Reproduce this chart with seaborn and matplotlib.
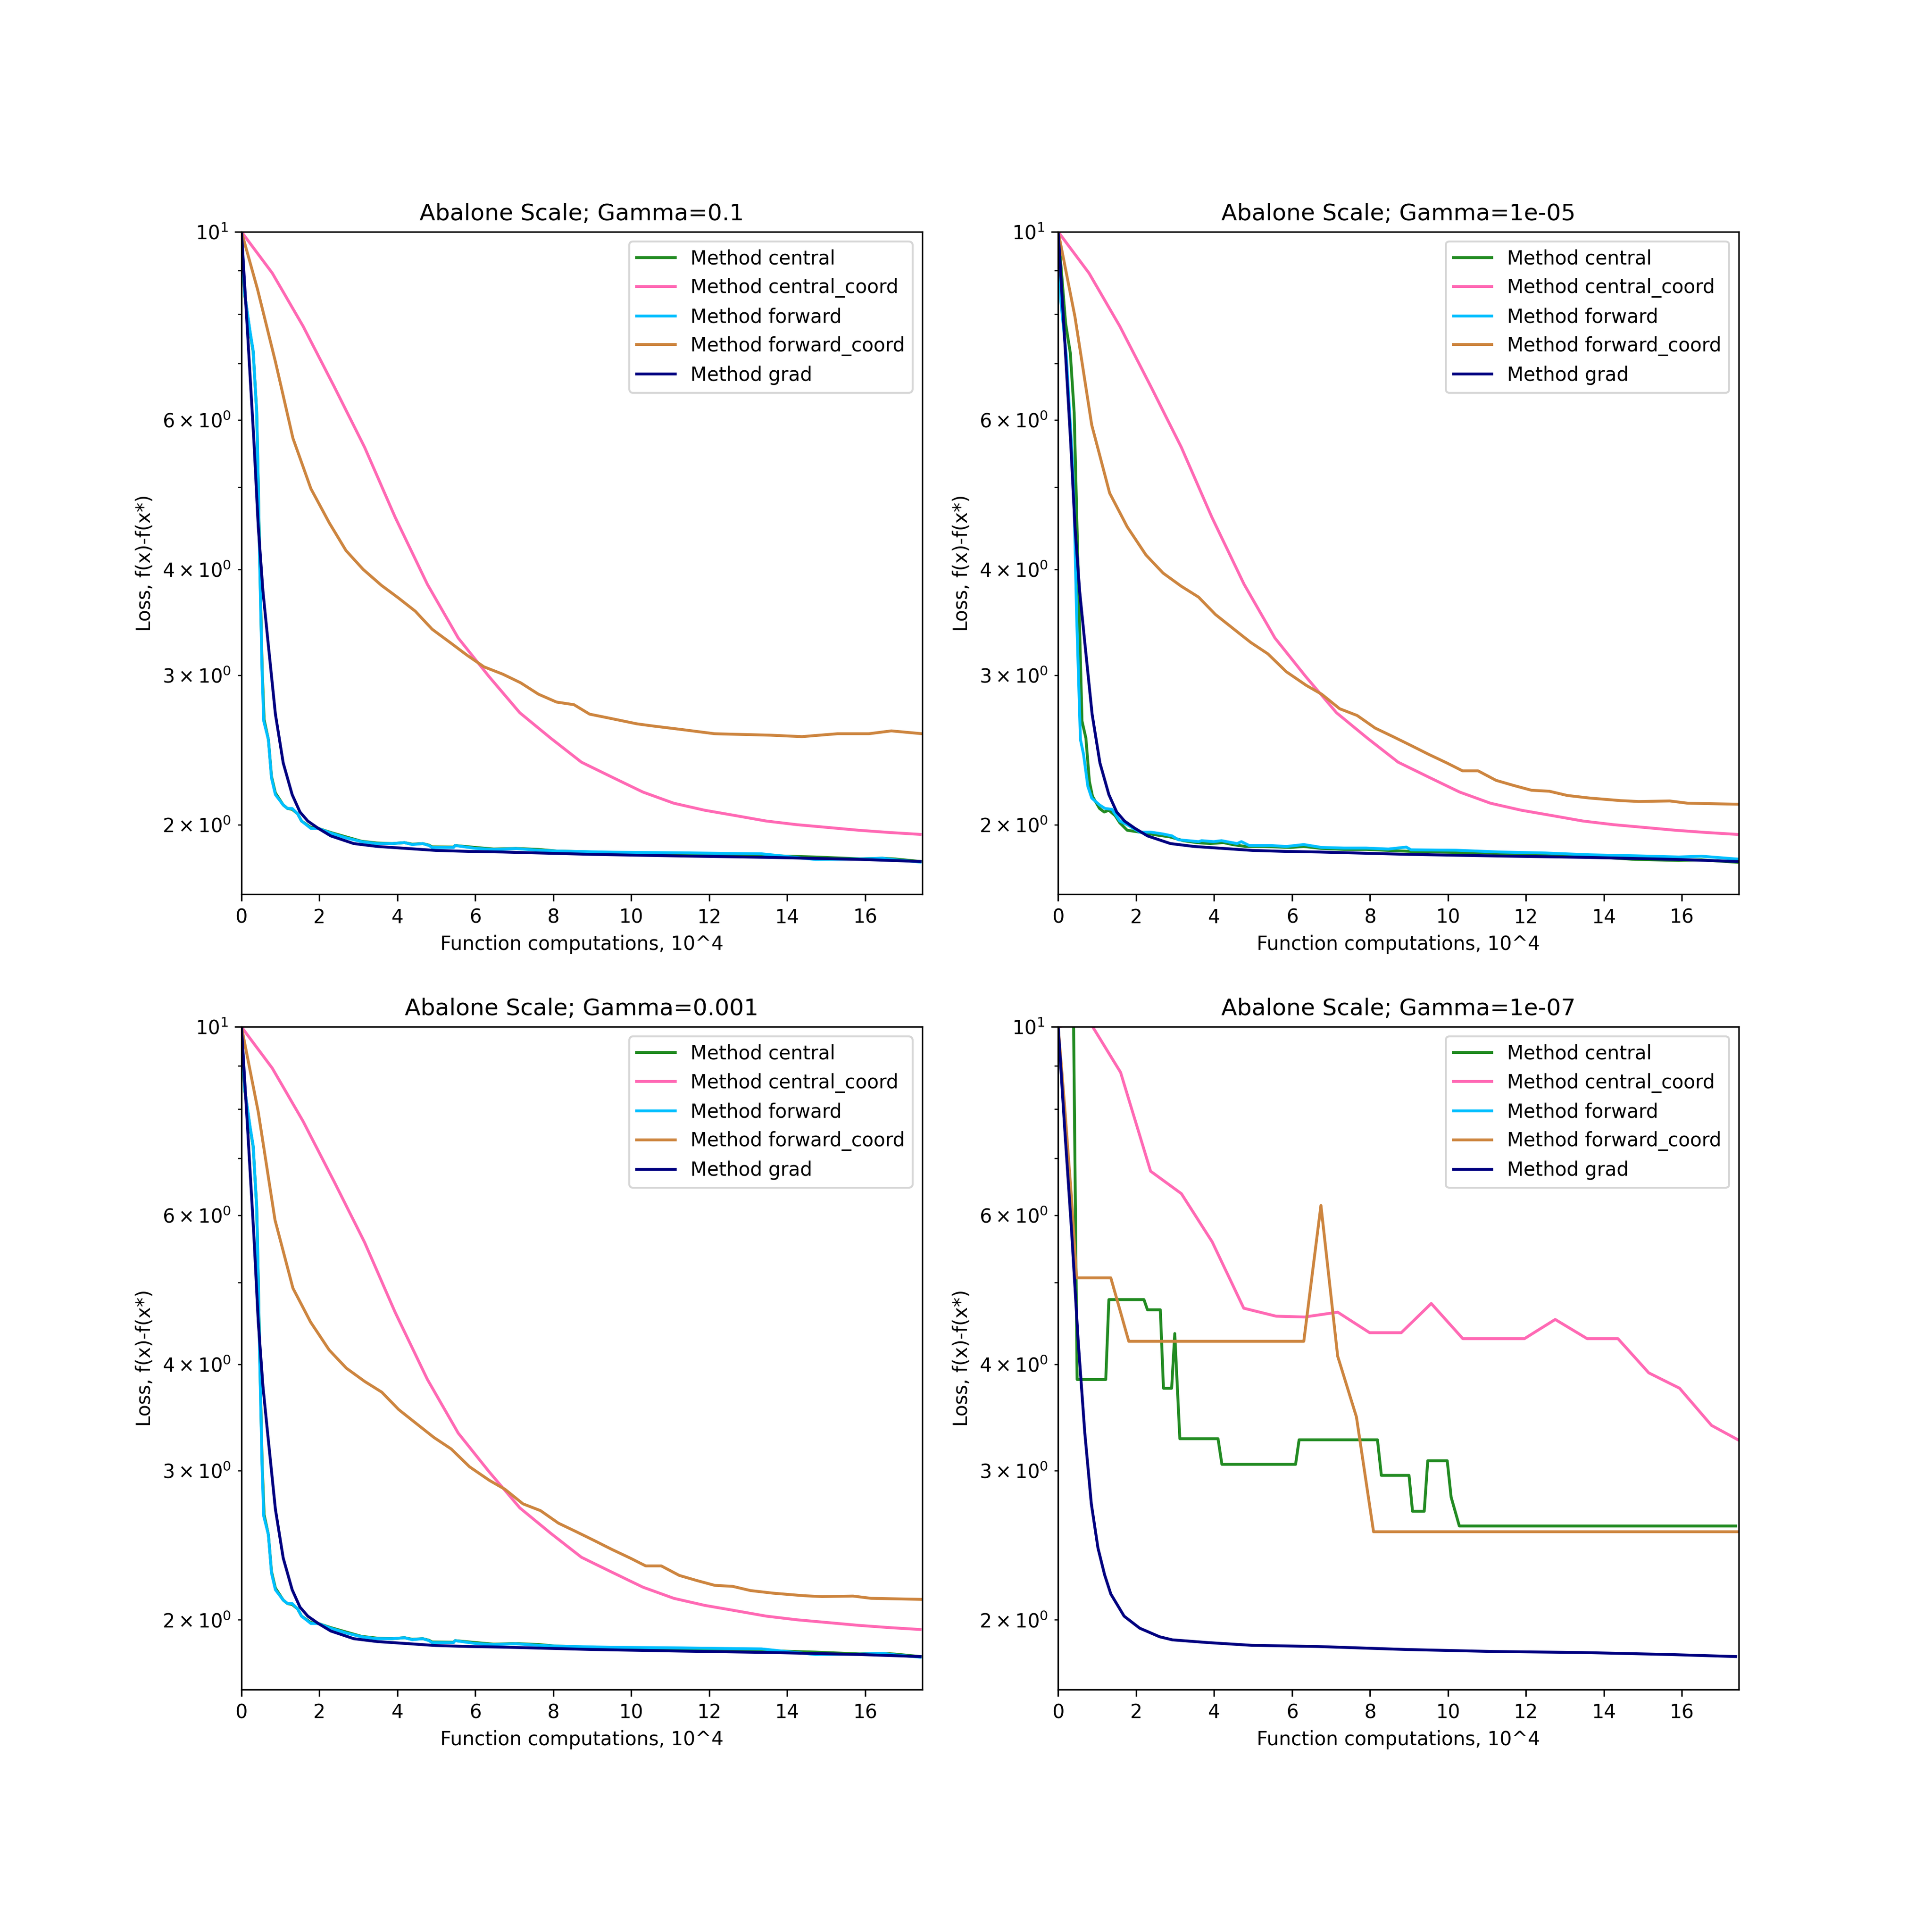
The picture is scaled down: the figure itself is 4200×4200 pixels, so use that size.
import numpy as np
import pandas as pd
import matplotlib
matplotlib.use("Agg")
import matplotlib.pyplot as plt
import seaborn as sns

# ---------------- data (x in units of 10^4 function computations) ----------------
# Panel Gamma=0.1 (also used for Gamma=0.001 where curves coincide)
central_A_x = [0, 0.08, 0.22, 0.30, 0.39, 0.43, 0.47, 0.53, 0.58, 0.69, 0.77, 0.87, 1.07, 1.18, 1.30, 1.44,
               1.54, 1.78, 1.97, 2.29, 2.68, 3.08, 3.47, 3.87, 4.18, 4.38, 4.65, 4.81, 4.89, 5.44, 5.48, 6.01,
               6.47, 7.04, 7.62, 8.08, 8.99, 9.56, 11.28, 12.43, 13.34, 14.72, 15.86, 16.44, 16.78, 17.41]
central_A_y = [10, 8.44, 7.60, 7.22, 6.14, 5.06, 4.05, 3.05, 2.66, 2.52, 2.28, 2.18, 2.11, 2.09, 2.085, 2.06,
               2.02, 1.985, 1.98, 1.958, 1.935, 1.912, 1.903, 1.90, 1.905, 1.897, 1.90, 1.892, 1.883, 1.882,
               1.89, 1.88, 1.872, 1.875, 1.87, 1.862, 1.857, 1.852, 1.846, 1.842, 1.84, 1.832, 1.823, 1.826,
               1.822, 1.81]
forward_A_x = [0, 0.08, 0.22, 0.30, 0.39, 0.43, 0.47, 0.53, 0.57, 0.69, 0.77, 0.87, 1.07, 1.18, 1.30, 1.44,
               1.54, 1.78, 1.97, 2.29, 2.68, 3.08, 3.47, 3.87, 4.18, 4.38, 4.65, 4.81, 4.89, 5.44, 5.48, 6.01,
               6.47, 7.04, 7.62, 8.08, 8.99, 9.56, 11.28, 12.43, 13.34, 14.72, 15.86, 16.44, 16.78, 17.41]
forward_A_y = [10, 8.46, 7.63, 7.24, 6.12, 5.03, 4.0, 3.0, 2.65, 2.52, 2.27, 2.17, 2.11, 2.09, 2.09, 2.06,
               2.02, 1.98, 1.98, 1.955, 1.93, 1.91, 1.90, 1.90, 1.905, 1.895, 1.90, 1.89, 1.88, 1.88,
               1.89, 1.875, 1.87, 1.874, 1.866, 1.862, 1.858, 1.856, 1.853, 1.85, 1.848, 1.82, 1.822, 1.826,
               1.818, 1.807]
grad_x = [0, 0.16, 0.32, 0.43, 0.55, 0.67, 0.87, 1.07, 1.30, 1.50, 1.70, 1.97, 2.29, 2.88, 3.49, 3.87, 4.98,
          5.84, 6.70, 8.99, 11.28, 13.57, 15.86, 17.41]
grad_y = [10, 7.54, 5.65, 4.49, 3.77, 3.32, 2.70, 2.365, 2.17, 2.07, 2.02, 1.98, 1.94, 1.90, 1.885, 1.88,
          1.865, 1.86, 1.857, 1.845, 1.837, 1.83, 1.82, 1.81]
central_coord_x = [0, 0.79, 1.58, 2.37, 3.16, 3.94, 4.77, 5.56, 6.35, 7.14, 7.93, 8.72, 9.51, 10.30, 11.09,
                   11.88, 12.67, 13.46, 14.25, 15.04, 15.83, 16.62, 17.41]
central_coord_y = [10, 8.94, 7.74, 6.58, 5.57, 4.61, 3.84, 3.32, 2.99, 2.71, 2.53, 2.37, 2.275, 2.185, 2.12,
                   2.08, 2.05, 2.02, 2.0, 1.985, 1.97, 1.958, 1.948]
forward_coord_A_x = [0, 0.41, 0.87, 1.32, 1.78, 2.25, 2.68, 3.12, 3.59, 4.03, 4.46, 4.89, 5.35, 5.78, 6.22,
                     6.70, 7.16, 7.62, 8.08, 8.53, 8.93, 9.45, 10.14, 10.54, 11.28, 12.14, 13.57, 14.38, 14.83,
                     15.29, 16.09, 16.67, 17.47]
forward_coord_A_y = [10, 8.56, 7.03, 5.71, 4.98, 4.54, 4.21, 4.0, 3.83, 3.70, 3.57, 3.40, 3.28, 3.17, 3.07,
                     3.01, 2.94, 2.85, 2.79, 2.77, 2.70, 2.67, 2.63, 2.615, 2.59, 2.56, 2.55, 2.54, 2.55,
                     2.56, 2.56, 2.58, 2.56]

# Panel Gamma=1e-05 (coordinate methods also used for Gamma=0.001)
central_B_x = [0, 0.19, 0.31, 0.41, 0.51, 0.61, 0.71, 0.80, 0.88, 1.06, 1.18, 1.30, 1.46, 1.58, 1.77, 2.09,
               2.52, 2.86, 3.21, 3.55, 3.90, 4.24, 4.47, 4.81, 5.27, 5.96, 6.30, 6.76, 7.33, 7.90, 8.47, 9.05,
               10.2, 11.34, 12.5, 13.63, 14.8, 15.92, 16.5, 17.41]
central_B_y = [10, 7.80, 7.2, 6.12, 4.0, 2.65, 2.53, 2.25, 2.16, 2.09, 2.07, 2.08, 2.05, 2.01, 1.97, 1.96,
               1.945, 1.935, 1.915, 1.905, 1.90, 1.905, 1.895, 1.885, 1.885, 1.88, 1.885, 1.875, 1.87, 1.87,
               1.865, 1.86, 1.855, 1.85, 1.84, 1.835, 1.82, 1.815, 1.818, 1.806]
forward_B_x = [0, 0.07, 0.21, 0.35, 0.41, 0.47, 0.57, 0.65, 0.76, 0.86, 1.06, 1.20, 1.38, 1.58, 1.77, 2.09,
               2.37, 2.69, 2.92, 3.08, 3.60, 3.68, 3.99, 4.19, 4.59, 4.70, 4.90, 5.46, 5.85, 6.30, 6.76, 7.33,
               7.90, 8.47, 8.93, 9.05, 10.2, 11.34, 12.5, 13.63, 14.8, 15.92, 16.5, 17.41]
forward_B_y = [10, 8.27, 7.12, 5.52, 4.75, 3.56, 2.52, 2.42, 2.22, 2.15, 2.11, 2.09, 2.085, 2.02, 2.0, 1.96,
               1.96, 1.95, 1.94, 1.92, 1.91, 1.915, 1.91, 1.915, 1.90, 1.91, 1.89, 1.89, 1.885, 1.895, 1.88,
               1.877, 1.877, 1.872, 1.882, 1.868, 1.866, 1.857, 1.852, 1.843, 1.838, 1.832, 1.836, 1.822]
forward_coord_B_x = [0, 0.43, 0.86, 1.32, 1.77, 2.25, 2.69, 3.16, 3.60, 4.03, 4.51, 4.94, 5.38, 5.85, 6.36,
                     6.76, 7.22, 7.67, 8.13, 8.59, 9.05, 9.51, 9.97, 10.37, 10.77, 11.23, 11.68, 12.14, 12.60,
                     13.06, 13.63, 14.43, 14.89, 15.69, 16.15, 17.47]
forward_coord_B_y = [10, 7.94, 5.92, 4.92, 4.49, 4.16, 3.96, 3.82, 3.71, 3.54, 3.40, 3.28, 3.18, 3.03, 2.92,
                     2.85, 2.74, 2.69, 2.60, 2.54, 2.48, 2.42, 2.365, 2.315, 2.315, 2.256, 2.225, 2.196, 2.19,
                     2.165, 2.15, 2.135, 2.13, 2.133, 2.12, 2.114]

# Panel Gamma=1e-07
central_D_x = [0, 0.18, 0.485, 1.22, 1.30, 2.20, 2.29, 2.62, 2.70, 2.91, 2.99, 3.12, 4.10, 4.20, 6.09, 6.18,
               8.19, 8.29, 9.00, 9.09, 9.39, 9.48, 9.98, 10.08, 10.29, 17.38]
central_D_y = [10, 100, 3.84, 3.84, 4.77, 4.77, 4.64, 4.64, 3.75, 3.75, 4.35, 3.27, 3.27, 3.05, 3.05, 3.26,
               3.26, 2.96, 2.96, 2.685, 2.685, 3.08, 3.08, 2.79, 2.58, 2.58]
central_coord_D_x = [0, 0.80, 1.60, 2.37, 3.16, 3.95, 4.76, 5.59, 6.32, 7.17, 7.99, 8.80, 9.57, 10.38, 11.96,
                     12.75, 13.57, 14.36, 15.15, 15.94, 16.76, 17.44]
central_coord_D_y = [10, 10.15, 8.84, 6.76, 6.36, 5.58, 4.66, 4.56, 4.55, 4.61, 4.36, 4.36, 4.72, 4.29, 4.29,
                     4.52, 4.29, 4.29, 3.91, 3.75, 3.39, 3.26]
forward_D_x = [0, 0.2, 0.4, 0.6]
forward_D_y = [10, 60, 400, 2500]
forward_coord_D_x = [0, 0.17, 0.34, 0.47, 1.35, 1.81, 6.30, 6.74, 7.17, 7.65, 8.09, 17.44]
forward_coord_D_y = [10, 8.0, 6.29, 5.06, 5.06, 4.26, 4.26, 6.16, 4.09, 3.47, 2.54, 2.54]
grad_D_x = [0, 0.17, 0.34, 0.51, 0.68, 0.85, 1.02, 1.19, 1.35, 1.69, 2.09, 2.60, 2.93, 3.84, 4.97, 6.66,
            8.92, 11.17, 13.43, 14.56, 15.69, 17.38]
grad_D_y = [10, 7.54, 5.78, 4.28, 3.33, 2.74, 2.43, 2.26, 2.145, 2.02, 1.955, 1.91, 1.894, 1.88, 1.866, 1.86,
            1.845, 1.835, 1.83, 1.825, 1.82, 1.81]

methods = ["central", "central_coord", "forward", "forward_coord", "grad"]
colors = {"central": "forestgreen", "central_coord": "hotpink", "forward": "deepskyblue",
          "forward_coord": "peru", "grad": "navy"}
gammas = ["0.1", "1e-05", "0.001", "1e-07"]

panels = {
    "0.1": {"central": (central_A_x, central_A_y), "central_coord": (central_coord_x, central_coord_y),
            "forward": (forward_A_x, forward_A_y), "forward_coord": (forward_coord_A_x, forward_coord_A_y),
            "grad": (grad_x, grad_y)},
    "1e-05": {"central": (central_B_x, central_B_y), "central_coord": (central_coord_x, central_coord_y),
              "forward": (forward_B_x, forward_B_y), "forward_coord": (forward_coord_B_x, forward_coord_B_y),
              "grad": (grad_x, grad_y)},
    "0.001": {"central": (central_A_x, central_A_y), "central_coord": (central_coord_x, central_coord_y),
              "forward": (forward_A_x, forward_A_y), "forward_coord": (forward_coord_B_x, forward_coord_B_y),
              "grad": (grad_x, grad_y)},
    "1e-07": {"central": (central_D_x, central_D_y), "central_coord": (central_coord_D_x, central_coord_D_y),
              "forward": (forward_D_x, forward_D_y), "forward_coord": (forward_coord_D_x, forward_coord_D_y),
              "grad": (grad_D_x, grad_D_y)},
}

# ---------------- plotting ----------------
fig, axes = plt.subplots(2, 2, figsize=(14, 14), dpi=300)
fig.subplots_adjust(left=0.125, right=0.9, top=0.88, bottom=0.1255, wspace=0.2, hspace=0.2)
for ax, g in zip(axes.flat, gammas):
    for m in methods:
        xs, ys = panels[g][m]
        df = pd.DataFrame({"x": xs, "y": ys})
        sns.lineplot(data=df, x="x", y="y", ax=ax, color=colors[m], label=f"Method {m}",
                     estimator=None, sort=False, linewidth=1.5)
    ax.set_yscale("log")
    ax.set_ylim(1.655, 10)
    ax.set_xlim(0, 17.46)
    ax.set_title(f"Abalone Scale; Gamma={g}")
    ax.set_xlabel("Function computations, 10^4")
    ax.set_ylabel("Loss, f(x)-f(x*)")
    ax.legend(loc="upper right")

fig.savefig("out.png", dpi=300)
